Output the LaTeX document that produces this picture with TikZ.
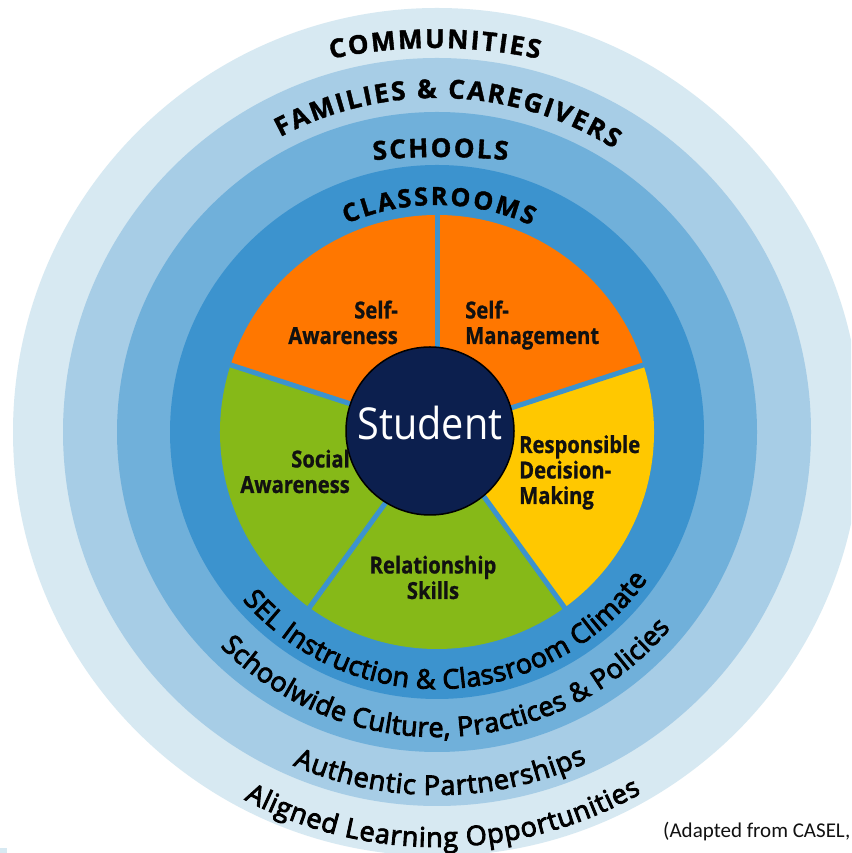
\documentclass[tikz,border=0pt]{standalone}
\usepackage{fontspec}
\setmainfont{Open Sans}
\newfontfamily\labfont[FakeStretch=0.86,FakeBold=0.8]{Open Sans}
\newfontfamily\stufont[FakeStretch=0.9]{Open Sans}
\newfontfamily\capfont[FakeBold=1.5]{Open Sans}
\newfontfamily\arcfont[FakeBold=3.2]{Open Sans}
\newfontfamily\captfont{Carlito}
\usetikzlibrary{decorations.text}
\definecolor{ringA}{HTML}{D7E9F2}
\definecolor{ringB}{HTML}{A7CDE6}
\definecolor{ringC}{HTML}{70B0DA}
\definecolor{ringD}{HTML}{3C93CE}
\definecolor{secO}{HTML}{FF7700}
\definecolor{secY}{HTML}{FFC800}
\definecolor{secG}{HTML}{86B918}
\definecolor{navy}{HTML}{0C1F4E}
\definecolor{ink}{HTML}{111111}
\newcommand\capsfmt{\capfont\bfseries\fontsize{26}{26}\selectfont}
\newcommand\capsfmtb{\capfont\bfseries\fontsize{25}{25}\selectfont}
\newcommand\arcfmt{\arcfont\fontsize{27}{27}\selectfont}
\begin{document}
\begin{tikzpicture}[x=1pt,y=1pt,
  arctext/.style={decorate, decoration={text along path, text align={fit to path}, text={#1}}},
  lab/.style={inner sep=0pt, text=ink, font=\labfont\bfseries\fontsize{23.5}{25.5}\selectfont},
  divider/.style={draw=ringD, line width=5pt}]
\useasboundingbox (0,0) rectangle (851,853);
\clip (0,0) rectangle (851,853);
\fill[white] (0,0) rectangle (851,853);
\coordinate (O) at (437,421);
% rings
\fill[ringA] (O) circle[radius=424pt];
\fill[ringB] (O) circle[radius=374pt];
\fill[ringC] (O) circle[radius=320pt];
\fill[ringD] (O) circle[radius=267pt];
% sectors
\fill[secO] (O) -- ([shift={(90:217pt)}]O) arc[start angle=90,end angle=162,radius=217pt] -- cycle;
\fill[secG] (O) -- ([shift={(162:217pt)}]O) arc[start angle=162,end angle=234,radius=217pt] -- cycle;
\fill[secG] (O) -- ([shift={(234:217pt)}]O) arc[start angle=234,end angle=306,radius=217pt] -- cycle;
\fill[secY] (O) -- ([shift={(306:217pt)}]O) arc[start angle=306,end angle=378,radius=217pt] -- cycle;
\fill[secO] (O) -- ([shift={(18:217pt)}]O) arc[start angle=18,end angle=90,radius=217pt] -- cycle;
\foreach \a in {18,90,162,234,306}{
  \coordinate (e\a) at ([shift={(\a:218pt)}]O);
  \draw[divider] (O) -- (e\a);
}
% student
\node[circle, fill=navy, draw=black, line width=1.5pt, minimum size=168pt, inner sep=0pt] (stu) at (430,422) {};
\node[anchor=base, inner sep=0pt, text=white, font=\stufont\fontsize{44}{44}\selectfont] (stutext) at (430,413) {Student};
% sector labels (base anchor = baseline of last line)
\node[lab, anchor=base east, align=right] (sa) at (398,509) {Self-\\Awareness};
\node[lab, anchor=base west, align=left] (sm) at (465,509) {Self-\\Management};
\node[lab, anchor=base west, align=left] (rd) at (519,349) {Responsible\\Decision-\\Making};
\node[lab, anchor=base east, align=right] (so) at (350,360) {Social\\Awareness};
\node[lab, anchor=base, align=center] (rs) at (433,254) {Relationship\\Skills};
% top arc texts
\path[arctext={|\capsfmt|COMMUNITIES}] ([shift={(102:500pt)}]435,305) arc[start angle=102,end angle=78,radius=500pt];
\path[arctext={|\capsfmt|FAMILIES {\&} CAREGIVERS}] ([shift={(118:334pt)}]O) arc[start angle=118,end angle=58,radius=334pt];
\path[arctext={|\capsfmt|SCHOOLS}] ([shift={(95.5:700pt)}]440.5,-4) arc[start angle=95.5,end angle=84.5,radius=700pt];
\path[arctext={|\capsfmtb|CLASSROOMS}] ([shift={(113.5:227pt)}]O) arc[start angle=113.5,end angle=65.5,radius=227pt];
% bottom arc texts
\path[arctext={|\arcfmt|SEL Instruction {\&} Classroom Climate}] ([shift={(220.8:257pt)}]O) arc[start angle=220.8,end angle=325,radius=257pt];
\path[arctext={|\arcfmt|Schoolwide Culture, Practices {\&} Policies}] ([shift={(224.7:305pt)}]O) arc[start angle=224.7,end angle=320,radius=305pt];
\path[arctext={|\arcfmt|Authentic Partnerships}] ([shift={(246.6:363pt)}]O) arc[start angle=246.6,end angle=294.4,radius=363pt];
\path[arctext={|\arcfmt|Aligned Learning Opportunities}] ([shift={(242.3:415pt)}]O) arc[start angle=242.3,end angle=299.5,radius=415pt];
% caption and corner mark
\node[anchor=base west, inner sep=0pt, text=ink, font=\captfont\fontsize{21}{21}\selectfont] (cap) at (663,15) {(Adapted from CASEL,};
\fill[ringA] (0,0) rectangle (7,5);
\end{tikzpicture}
\end{document}
